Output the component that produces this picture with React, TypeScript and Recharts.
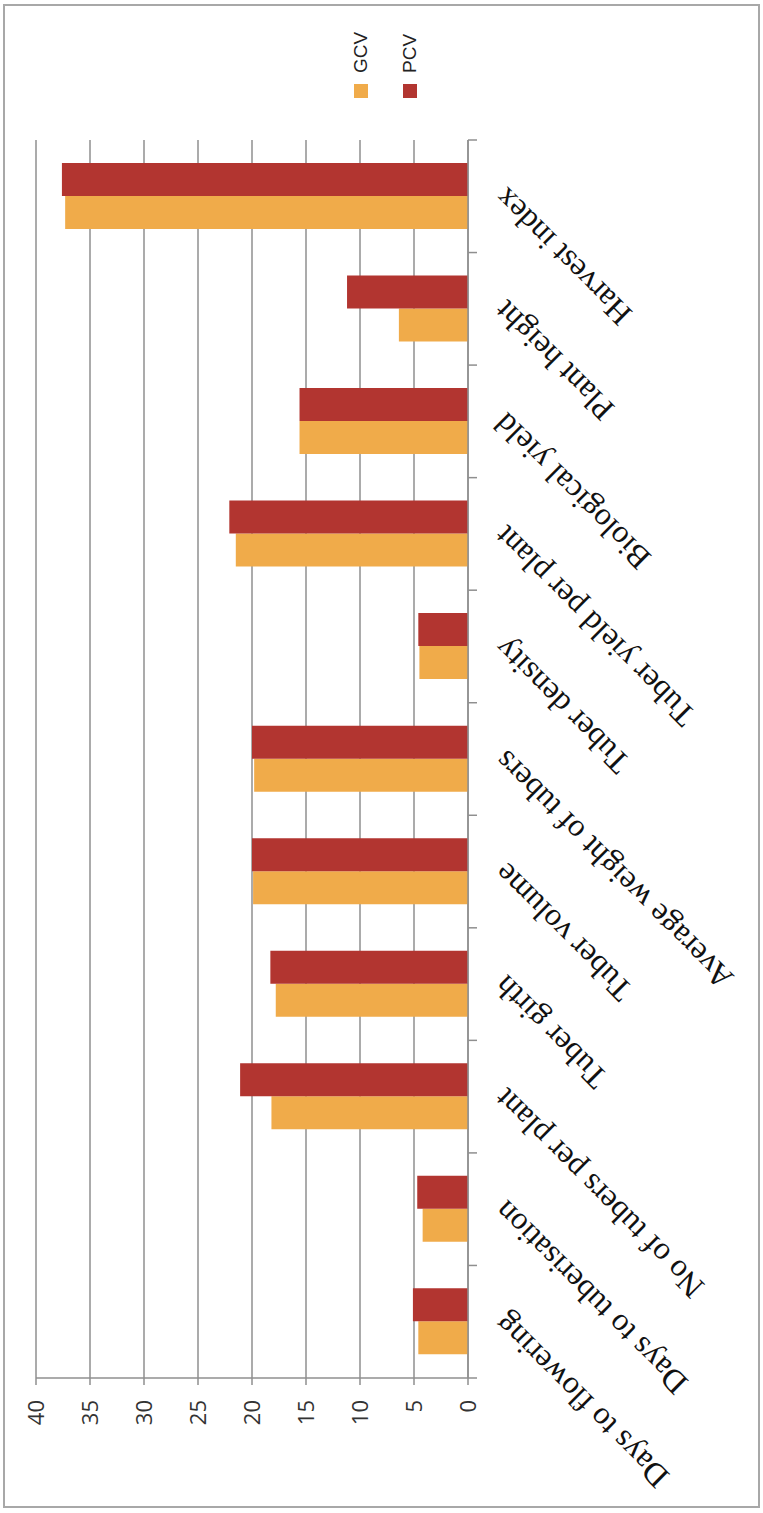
import React from 'react';
import { BarChart, Bar, XAxis, YAxis, CartesianGrid, Legend } from 'recharts';

// Coefficients of variation per trait (GCV / PCV, %)
const traits = [
  'Days to flowering',
  'Days to tuberisation',
  'No of tubers per plant',
  'Tuber girth',
  'Tuber volume',
  'Average weight of tubers',
  'Tuber density',
  'Tuber yield per plant',
  'Biological yield',
  'Plant height',
  'Harvest index',
];
const gcv = [4.6, 4.2, 18.2, 17.8, 19.9, 19.8, 4.5, 21.5, 15.6, 6.4, 37.3];
const pcv = [5.1, 4.7, 21.1, 18.3, 20.0, 20.0, 4.6, 22.1, 15.6, 11.2, 37.6];
const valueTicks = [0, 5, 10, 15, 20, 25, 30, 35, 40];

const data = traits.map((name, i) => ({ name, GCV: gcv[i], PCV: pcv[i] }));

const W = 1513;
const H = 763;
const AXIS_GREY = '#8f8f8f';

// Category label turned -45deg, plus tick marks on the band edges
const CategoryTick = (props: any) => {
  const { x, y, payload, index, visibleTicksCount } = props;
  const half = payload.offset || 0;
  const tx = x - 6;
  const ty = y + 23;
  return (
    <g>
      <line x1={x - half} y1={y} x2={x - half} y2={y + 9} stroke={AXIS_GREY} strokeWidth={1.5} />
      {index === visibleTicksCount - 1 && (
        <line x1={x + half} y1={y} x2={x + half} y2={y + 9} stroke={AXIS_GREY} strokeWidth={1.5} />
      )}
      <text
        x={tx}
        y={ty}
        transform={`rotate(-45 ${tx} ${ty})`}
        textAnchor="end"
        dy="0.72em"
        fontFamily="'Liberation Serif', 'Times New Roman', serif"
        fontSize={32}
        fill="#111"
      >
        {payload.value}
      </text>
    </g>
  );
};

const LegendBox = (props: any) => (
  <div>
    {props.payload.map((entry: any) => (
      <div key={entry.value} style={{ display: 'flex', alignItems: 'center', height: 49 }}>
        <span style={{ width: 14, height: 14, background: entry.color, display: 'inline-block' }} />
        <span
          style={{
            marginLeft: 11,
            fontFamily: "'Liberation Sans', Arial, sans-serif",
            fontSize: 19,
            color: '#222',
          }}
        >
          {entry.value}
        </span>
      </div>
    ))}
  </div>
);

export default function App() {
  return (
    <div
      style={{
        position: 'absolute',
        left: 0,
        top: 0,
        width: 763,
        height: 1513,
        background: '#fff',
        overflow: 'hidden',
      }}
    >
      <div
        style={{
          position: 'absolute',
          left: 3,
          top: 4,
          width: 757,
          height: 1504,
          border: '2px solid #a8a8a8',
          boxSizing: 'border-box',
        }}
      />
      {/* column chart laid out landscape, then turned a quarter anticlockwise */}
      <div
        style={{
          position: 'absolute',
          left: 0,
          top: 0,
          width: W,
          height: H,
          transformOrigin: '0 0',
          transform: `translate(0px, ${W}px) rotate(-90deg)`,
        }}
      >
        <BarChart
          width={W}
          height={H}
          data={data}
          margin={{ top: 36, right: 40, bottom: 200, left: 35 }}
          barCategoryGap="21%"
          barGap={0}
        >
          <CartesianGrid
            xAxisId="cat"
            vertical={false}
            stroke={AXIS_GREY}
            strokeWidth={1.5}
          />
          <XAxis
            xAxisId="cat"
            dataKey="name"
            type="category"
            interval={0}
            height={95}
            stroke={AXIS_GREY}
            strokeWidth={1.5}
            tickLine={false}
            tickSize={0}
            tickMargin={0}
            tick={<CategoryTick />}
          />
          <YAxis
            domain={[0, 40]}
            ticks={valueTicks}
            width={100}
            tickSize={7}
            tickMargin={15}
            stroke={AXIS_GREY}
            strokeWidth={1.5}
            tick={{ fill: '#333', fontSize: 22, fontFamily: "'Open Sans', sans-serif" }}
          />
          <Legend
            layout="vertical"
            align="right"
            verticalAlign="top"
            width={100}
            height={100}
            wrapperStyle={{ left: 1415, top: 336 }}
            content={<LegendBox />}
          />
          <Bar xAxisId="cat" dataKey="GCV" fill="#f0ab4a" isAnimationActive={false} />
          <Bar xAxisId="cat" dataKey="PCV" fill="#b23530" isAnimationActive={false} />
        </BarChart>
      </div>
    </div>
  );
}
